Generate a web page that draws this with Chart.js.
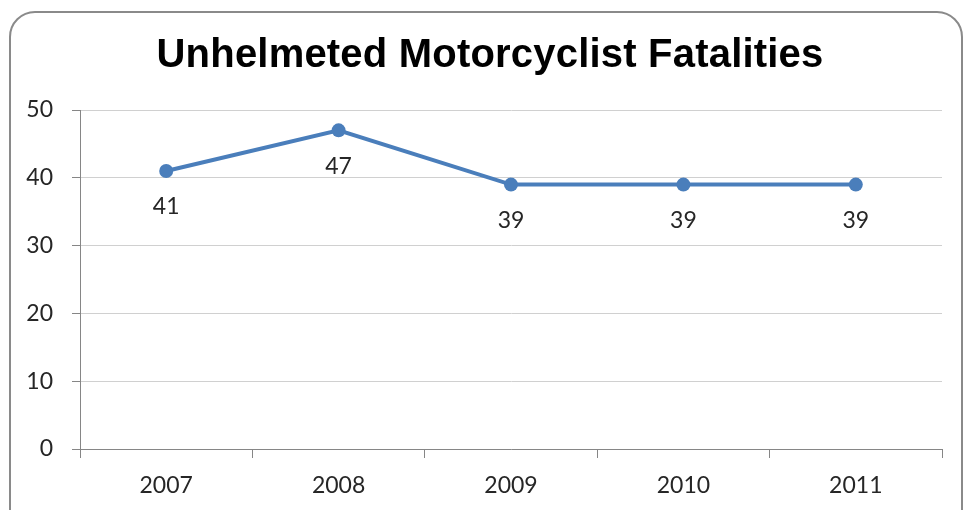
<!DOCTYPE html>
<html>
<head>
<meta charset="utf-8">
<script src="https://cdn.jsdelivr.net/npm/chart.js@4"></script>
<style>
  html, body { margin: 0; padding: 0; background: #fff; }
  body { width: 964px; height: 510px; position: relative; overflow: hidden; }
  #frame {
    position: absolute; left: 9px; top: 11px; width: 954px; height: 530px;
    border: 2px solid #8a8a8a; border-radius: 26px; box-sizing: border-box;
  }
  #wrap { position: absolute; left: 0; top: 0; width: 964px; height: 510px; }
</style>
</head>
<body>
<div id="frame"></div>
<div id="wrap"><canvas id="myChart"></canvas></div>
<script>
const years = ['2007', '2008', '2009', '2010', '2011'];
const fatalities = [41, 47, 39, 39, 39];
const yTicks = [0, 10, 20, 30, 40, 50];
const chartTitle = 'Unhelmeted Motorcyclist Fatalities';

const tickFont = {family: 'Lato, "Open Sans", sans-serif', size: 23};

// title (centred over the frame, not the canvas) + value labels under points
const extraText = {
  id: 'extraText',
  afterDatasetsDraw(chart) {
    const ctx = chart.ctx;
    const meta = chart.getDatasetMeta(0);
    ctx.save();
    ctx.textAlign = 'center';
    ctx.textBaseline = 'middle';

    ctx.font = 'bold 40px "Liberation Sans", Arial, sans-serif';
    ctx.fillStyle = '#000';
    ctx.letterSpacing = '0.2px';
    ctx.fillText(chartTitle, 490, 56);
    ctx.letterSpacing = '0px';

    ctx.font = '23px Lato, "Open Sans", sans-serif';
    ctx.fillStyle = '#262626';
    meta.data.forEach((pt, i) => {
      ctx.fillText(String(fatalities[i]), pt.x, pt.y + 36);
    });
    ctx.restore();
  }
};

const config = {
  type: 'line',
  data: {
    labels: years,
    datasets: [{
      label: 'Fatalities',
      data: fatalities,
      borderColor: '#4a7ebb',
      backgroundColor: '#4a7ebb',
      borderWidth: 4,
      pointRadius: 7,
      pointHoverRadius: 7,
      pointBorderWidth: 0,
      tension: 0
    }]
  },
  options: {
    responsive: true,
    maintainAspectRatio: false,
    animation: false,
    layout: {padding: {left: 0, right: 22, top: 110, bottom: 0}},
    plugins: {
      legend: {display: false},
      tooltip: {enabled: false},
      title: {display: false}
    },
    scales: {
      x: {
        offset: true,
        grid: {
          offset: true,
          drawOnChartArea: false,
          drawTicks: true,
          tickLength: 9,
          tickColor: '#868686'
        },
        border: {color: '#868686', width: 1},
        ticks: {color: '#262626', font: tickFont, padding: 14},
        afterFit(scale) { scale.height = 61; }
      },
      y: {
        min: 0,
        max: 50,
        afterBuildTicks(scale) { scale.ticks = yTicks.map(v => ({value: v})); },
        grid: {color: '#d0d0d0', tickLength: 8, tickColor: '#868686'},
        border: {color: '#868686', width: 1},
        ticks: {color: '#262626', font: tickFont, padding: 19},
        afterFit(scale) { scale.width = 80; }
      }
    }
  },
  plugins: [extraText]
};

const myChart = new Chart(document.getElementById('myChart'), config);
</script>
</body>
</html>
